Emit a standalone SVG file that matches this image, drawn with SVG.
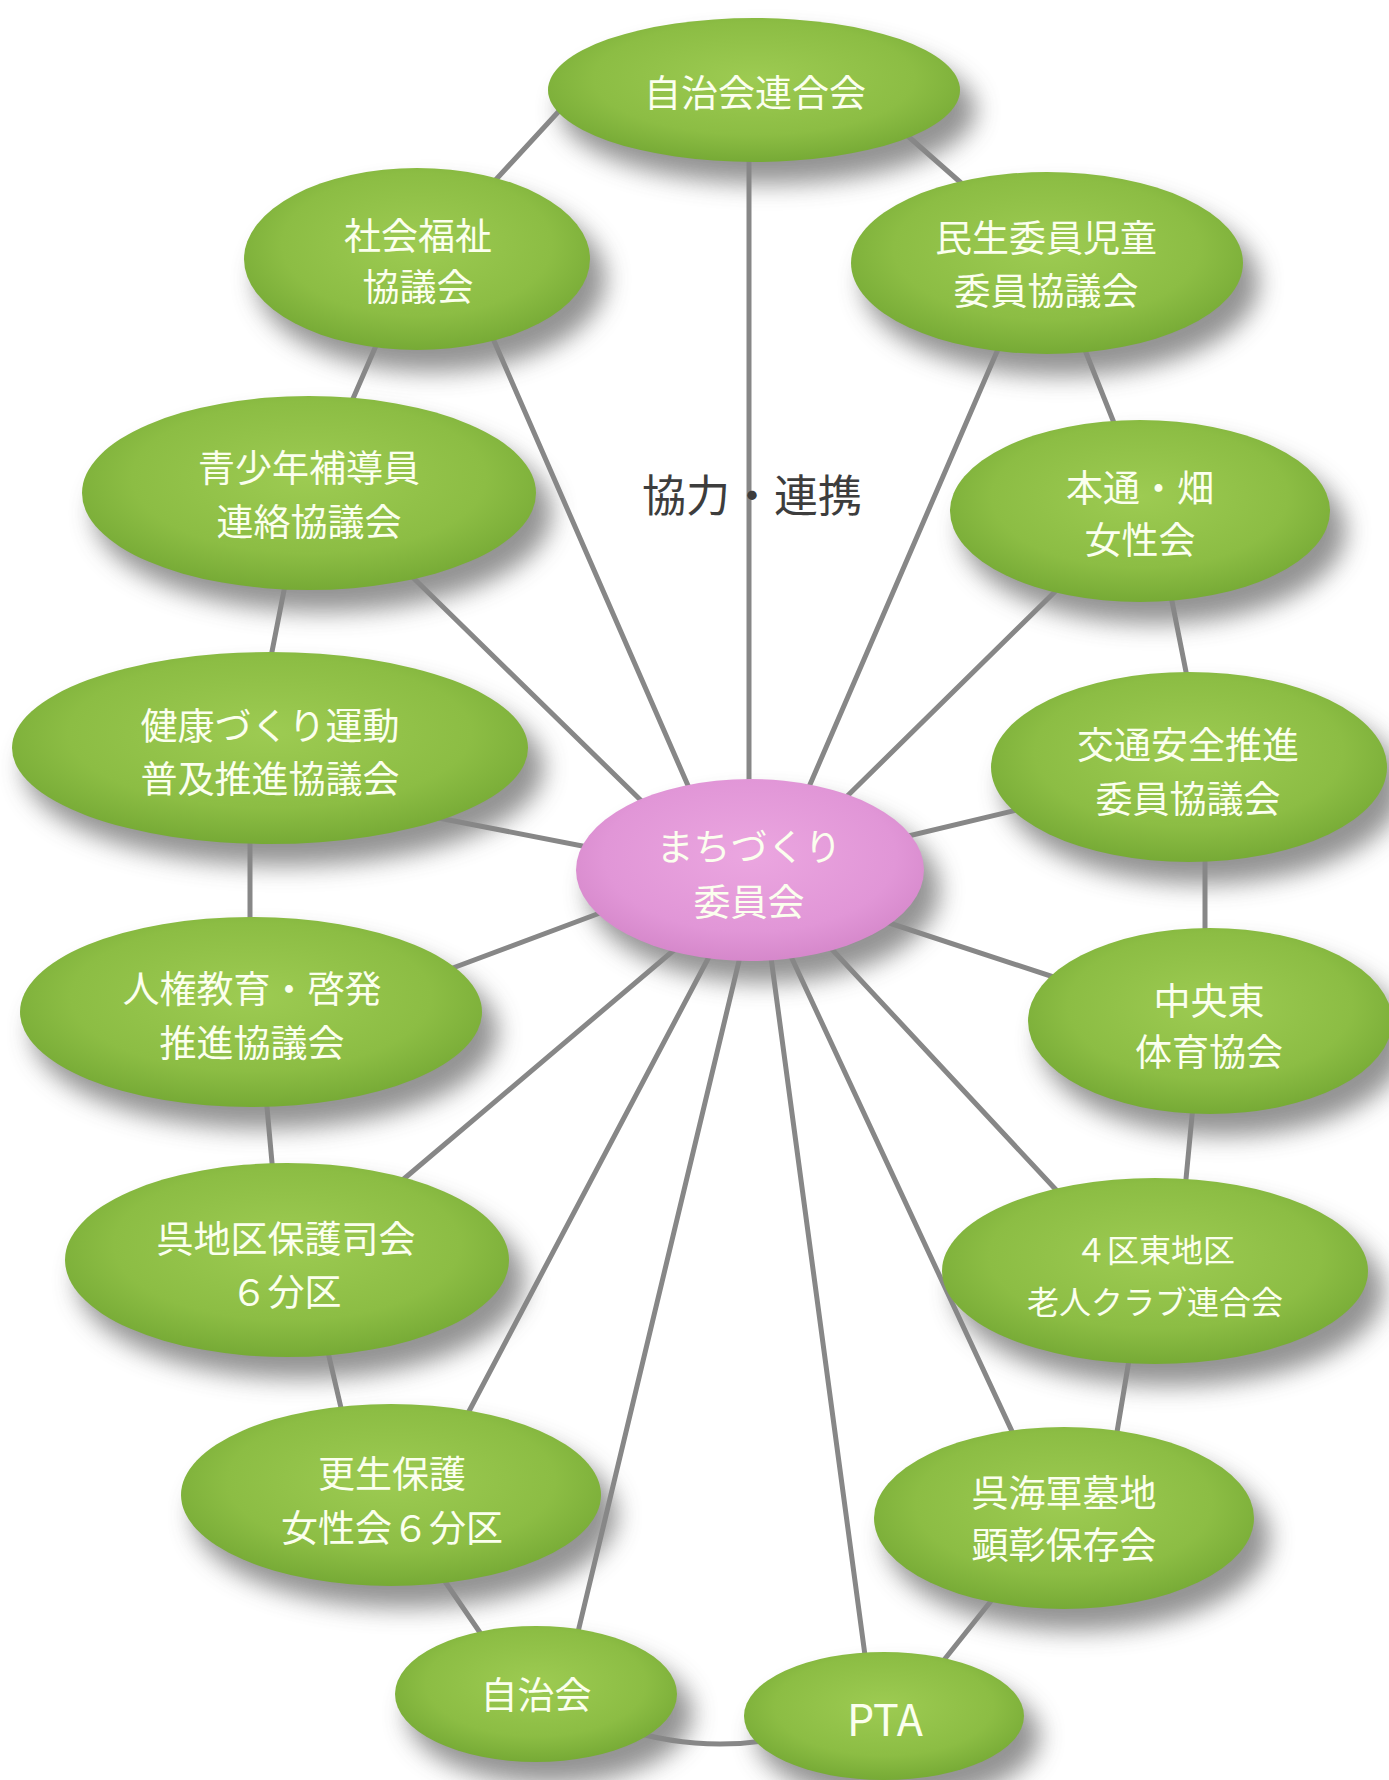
<svg xmlns="http://www.w3.org/2000/svg" width="1389" height="1780" viewBox="0 0 1389 1780">
<defs>
<radialGradient id="gGreen" cx="50%" cy="42%" r="60%">
<stop offset="0%" stop-color="#9dcb52"/>
<stop offset="65%" stop-color="#8cbd44"/>
<stop offset="100%" stop-color="#74a834"/>
</radialGradient>
<radialGradient id="gPink" cx="50%" cy="42%" r="60%">
<stop offset="0%" stop-color="#eba6e0"/>
<stop offset="70%" stop-color="#e196d7"/>
<stop offset="100%" stop-color="#d486c9"/>
</radialGradient>
<filter id="blur" x="-30%" y="-30%" width="160%" height="160%">
<feGaussianBlur stdDeviation="12"/>
</filter>
</defs>
<style>
.sh{fill:#808080;opacity:0.85;filter:url(#blur)}
.g{fill:url(#gGreen)}
.p{fill:url(#gPink)}
.t{font-family:"Noto Sans CJK JP","Noto Sans",sans-serif;font-size:37px;fill:#fbffee;text-anchor:middle;dominant-baseline:central}
.c line,.c path{stroke:#878787;stroke-width:5;fill:none;stroke-linecap:round}
.lbl{font-family:"Noto Sans CJK JP","Noto Sans",sans-serif;font-size:44px;fill:#3d3d3d;text-anchor:middle;dominant-baseline:central}
</style>
<rect width="1389" height="1780" fill="#ffffff"/>
<g id="shadows">
<ellipse class="sh" cx="768" cy="110" rx="208" ry="74"/>
<ellipse class="sh" cx="431" cy="279" rx="175" ry="93"/>
<ellipse class="sh" cx="1061" cy="283" rx="198" ry="93"/>
<ellipse class="sh" cx="323" cy="513" rx="229" ry="99"/>
<ellipse class="sh" cx="1154" cy="531" rx="192" ry="93"/>
<ellipse class="sh" cx="284" cy="768" rx="260" ry="98"/>
<ellipse class="sh" cx="1203" cy="787" rx="200" ry="97"/>
<ellipse class="sh" cx="764" cy="890" rx="176" ry="93"/>
<ellipse class="sh" cx="265" cy="1032" rx="233" ry="97"/>
<ellipse class="sh" cx="1224" cy="1041" rx="184" ry="95"/>
<ellipse class="sh" cx="301" cy="1280" rx="224" ry="99"/>
<ellipse class="sh" cx="1169" cy="1291" rx="215" ry="95"/>
<ellipse class="sh" cx="405" cy="1515" rx="212" ry="93"/>
<ellipse class="sh" cx="1078" cy="1538" rx="192" ry="93"/>
<ellipse class="sh" cx="550" cy="1714" rx="143" ry="70"/>
<ellipse class="sh" cx="898" cy="1736" rx="142" ry="66"/>
</g>
<g id="connectors" class="c">
<line x1="560" y1="110" x2="490" y2="186"/>
<line x1="893" y1="123" x2="968" y2="189"/>
<line x1="385" y1="325" x2="345" y2="417"/>
<line x1="1079" y1="335" x2="1120" y2="438"/>
<line x1="288" y1="570" x2="268" y2="672"/>
<line x1="1168" y1="581" x2="1190" y2="692"/>
<line x1="250" y1="825" x2="250" y2="940"/>
<line x1="1205" y1="840" x2="1205" y2="950"/>
<line x1="265" y1="1085" x2="274" y2="1185"/>
<line x1="1194" y1="1095" x2="1184" y2="1200"/>
<line x1="324" y1="1335" x2="345" y2="1425"/>
<line x1="1132" y1="1342" x2="1114" y2="1450"/>
<line x1="431" y1="1561" x2="494" y2="1653"/>
<line x1="1003" y1="1586" x2="932" y2="1675"/>
<path d="M620,1728 Q695,1752 770,1740"/>
<line x1="749" y1="150" x2="749" y2="820"/>
<line x1="484" y1="318" x2="710" y2="836"/>
<line x1="1008" y1="326" x2="799" y2="810"/>
<line x1="393" y1="558" x2="662" y2="821"/>
<line x1="1076" y1="571" x2="828" y2="815"/>
<line x1="413" y1="813" x2="608" y2="851"/>
<line x1="1042" y1="804" x2="879" y2="843"/>
<line x1="426" y1="978" x2="624" y2="904"/>
<line x1="1078" y1="985" x2="868" y2="916"/>
<line x1="386" y1="1194" x2="693" y2="934"/>
<line x1="1073" y1="1208" x2="813" y2="929"/>
<line x1="457" y1="1434" x2="720" y2="936"/>
<line x1="1023" y1="1455" x2="781" y2="935"/>
<line x1="572" y1="1657" x2="745" y2="936"/>
<line x1="869" y1="1685" x2="768" y2="935"/>
</g>
<g id="label-kyoryoku">
<text class="lbl" x="752" y="493">協力・連携</text>
</g>
<g id="n1"><ellipse class="g" cx="754" cy="90" rx="206" ry="72"/><text class="t" x="755" y="91">自治会連合会</text></g>
<g id="n2"><ellipse class="g" cx="417" cy="259" rx="173" ry="91"/><text class="t" x="418" y="234">社会福祉</text><text class="t" x="418" y="285">協議会</text></g>
<g id="n3"><ellipse class="g" cx="1047" cy="263" rx="196" ry="91"/><text class="t" x="1046" y="236">民生委員児童</text><text class="t" x="1046" y="289">委員協議会</text></g>
<g id="n4"><ellipse class="g" cx="309" cy="493" rx="227" ry="97"/><text class="t" x="309" y="466">青少年補導員</text><text class="t" x="309" y="520">連絡協議会</text></g>
<g id="n5"><ellipse class="g" cx="1140" cy="511" rx="190" ry="91"/><text class="t" x="1140" y="486">本通・畑</text><text class="t" x="1140" y="538">女性会</text></g>
<g id="n6"><ellipse class="g" cx="270" cy="748" rx="258" ry="96"/><text class="t" x="270" y="724">健康づくり運動</text><text class="t" x="270" y="777">普及推進協議会</text></g>
<g id="n7"><ellipse class="g" cx="1189" cy="767" rx="198" ry="95"/><text class="t" x="1188" y="743">交通安全推進</text><text class="t" x="1188" y="797">委員協議会</text></g>
<g id="n8"><ellipse class="p" cx="750" cy="870" rx="174" ry="91"/><text class="t" x="749" y="845">まちづくり</text><text class="t" x="749" y="900">委員会</text></g>
<g id="n9"><ellipse class="g" cx="251" cy="1012" rx="231" ry="95"/><text class="t" x="252" y="987">人権教育・啓発</text><text class="t" x="252" y="1041">推進協議会</text></g>
<g id="n10"><ellipse class="g" cx="1210" cy="1021" rx="182" ry="93"/><text class="t" x="1209" y="999">中央東</text><text class="t" x="1209" y="1050">体育協会</text></g>
<g id="n11"><ellipse class="g" cx="287" cy="1260" rx="222" ry="97"/><text class="t" x="286" y="1237">呉地区保護司会</text><text class="t" x="286" y="1290">６分区</text></g>
<g id="n12"><ellipse class="g" cx="1155" cy="1271" rx="213" ry="93"/><text class="t" x="1155" y="1248" style="font-size:32px">４区東地区</text><text class="t" x="1155" y="1300" style="font-size:32px">老人クラブ連合会</text></g>
<g id="n13"><ellipse class="g" cx="391" cy="1495" rx="210" ry="91"/><text class="t" x="392" y="1472">更生保護</text><text class="t" x="392" y="1526">女性会６分区</text></g>
<g id="n14"><ellipse class="g" cx="1064" cy="1518" rx="190" ry="91"/><text class="t" x="1064" y="1491">呉海軍墓地</text><text class="t" x="1064" y="1543">顕彰保存会</text></g>
<g id="n15"><ellipse class="g" cx="536" cy="1694" rx="141" ry="68"/><text class="t" x="536" y="1693">自治会</text></g>
<g id="n16"><ellipse class="g" cx="884" cy="1716" rx="140" ry="64"/><text class="t" x="885" y="1717" style="font-size:43px">PTA</text></g>
</svg>
